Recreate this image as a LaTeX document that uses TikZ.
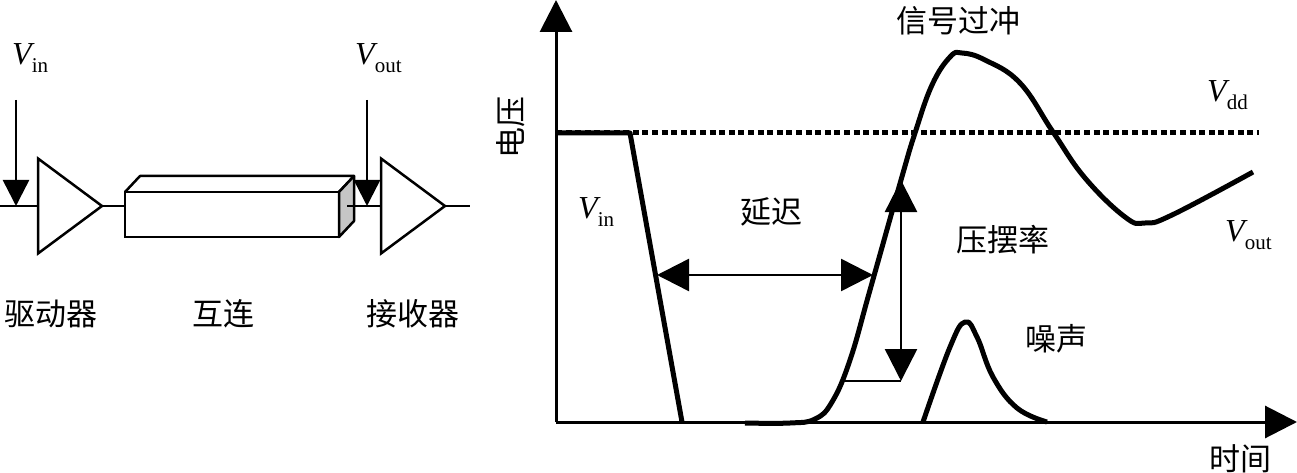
\documentclass[tikz,border=0pt]{standalone}
\usepackage{fontspec}
\setmainfont{Liberation Serif}
\newfontfamily\cjk{Noto Sans CJK SC}
\usetikzlibrary{shapes.geometric, positioning, arrows.meta}

\newcommand{\voltage}[1]{{\fontsize{32}{32}\selectfont\textit{V}}\kern-3pt\raisebox{-8pt}{\fontsize{21}{21}\selectfont #1}}

\begin{document}
\begin{tikzpicture}[
    x=1pt,
    y=-1pt,
    font=\fontsize{30}{30}\selectfont,
    label_cn/.style={
        font=\fontsize{31}{31}\selectfont\cjk,
        inner sep=0pt
    },
    label_v/.style={
        inner sep=0pt,
        anchor=base west
    },
    amp/.style={
        draw,
        line width=2.5pt,
        fill=white,
        isosceles triangle,
        isosceles triangle apex angle=74,
        isosceles triangle stretches,
        minimum width=95pt,
        minimum height=64pt,
        inner sep=0pt,
        outer sep=0pt
    },
    wire/.style={line width=2.5pt},
    probe/.style={line width=2.5pt, -{Triangle[length=26pt,width=26pt]}},
    axis/.style={line width=3pt, -{Triangle[length=32pt,width=32pt]}},
    span/.style={line width=2.5pt, {Triangle[length=32pt,width=32pt]}-{Triangle[length=32pt,width=32pt]}},
    curve/.style={line width=5pt, line join=round}
]

    \useasboundingbox[fill=white] (0,0) rectangle (1297,473);

    % Driver, interconnect, receiver
    \node[amp, anchor=lower side] (driver) at (38,206) {};
    \node[amp, anchor=lower side] (receiver) at (381,206) {};
    \node[draw, line width=2.5pt, minimum width=214pt, minimum height=45pt, inner sep=0pt, outer sep=0pt] (wirebox) at (232,214.5) {};
    \draw[line width=2.5pt, line join=round] (wirebox.north west) -- ++(15,-16) -- ++(214,0) -- (wirebox.north east);
    \draw[line width=2.5pt, line join=round, fill=gray!45] (wirebox.north east) -- ++(15,-16) -- ++(0,45) -- (wirebox.south east) -- cycle;

    \coordinate (in_left) at (0,206);
    \coordinate (in_probe) at (16,100);
    \coordinate (in_tip) at (16,206);
    \coordinate (out_start) at (347,206);
    \coordinate (out_probe) at (367,100);
    \coordinate (out_tip) at (367,206);
    \coordinate (out_right) at (470,206);

    \draw[wire] (in_left) -- (driver.lower side);
    \draw[wire] (driver.apex) -- (wirebox.west |- driver.apex);
    \draw[wire] (out_start) -- (receiver.lower side);
    \draw[wire] (receiver.apex) -- (out_right);
    \draw[probe] (in_probe) -- (in_tip);
    \draw[probe] (out_probe) -- (out_tip);

    \node[label_v] (vin_left) at (12,65) {\voltage{in}};
    \node[label_v] (vout_left) at (355,65) {\voltage{out}};
    \node[label_cn] (driver_text) at (51,314) {驱动器};
    \node[label_cn] (wire_text) at (223,314) {互连};
    \node[label_cn] (receiver_text) at (413,314) {接收器};

    % Axes
    \coordinate (origin) at (556,422);
    \coordinate (y_end) at (556,0);
    \coordinate (x_end) at (1297,422);
    \draw[axis] (origin) -- (y_end);
    \draw[axis] (origin) -- (x_end);

    % Vdd level
    \coordinate (vdd_left) at (556,133);
    \coordinate (vdd_right) at (1259,133);
    \draw[line width=5pt, dash pattern=on 6pt off 3.6pt] (vdd_left) -- (vdd_right);

    % Waveforms
    \draw[curve] (vdd_left) -- (630,133) -- (682,422);
    \draw[curve] plot[smooth, tension=0.7] coordinates {
        (745,423) (790,423) (815,419) (832,402) (850,360) (870,290) (901,180) (915,133)
        (932,85) (950,57) (962,53) (985,60) (1020,83) (1053,132) (1085,178)
        (1125,217) (1145,223) (1172,215) (1253,172)};
    \draw[curve] plot[smooth, tension=0.7] coordinates {
        (923,422) (950,347) (965,322) (977,337) (993,377) (1017,408) (1047,422)};

    % Delay and slew rate
    \coordinate (delay_left) at (657,275);
    \coordinate (delay_right) at (873,275);
    \coordinate (slew_top) at (901,180);
    \coordinate (slew_bottom) at (901,381);
    \coordinate (slew_foot) at (845,381);
    \draw[span] (delay_left) -- (delay_right);
    \draw[span] (slew_top) -- (slew_bottom);
    \draw[wire] (slew_foot) -- (slew_bottom);

    % Labels
    \node[label_cn] (overshoot) at (958,21) {信号过冲};
    \node[label_cn] (delay) at (771,212) {延迟};
    \node[label_cn] (slew) at (1003,240) {压摆率};
    \node[label_cn] (noise) at (1056,339) {噪声};
    \node[label_cn] (time) at (1240,459) {时间};
    \node[label_cn, rotate=90] (volt) at (511,128) {电压};
    \node[label_v] (vdd) at (1207,102) {\voltage{dd}};
    \node[label_v] (vin_right) at (578,218) {\voltage{in}};
    \node[label_v] (vout_right) at (1225,241) {\voltage{out}};

\end{tikzpicture}
\end{document}
